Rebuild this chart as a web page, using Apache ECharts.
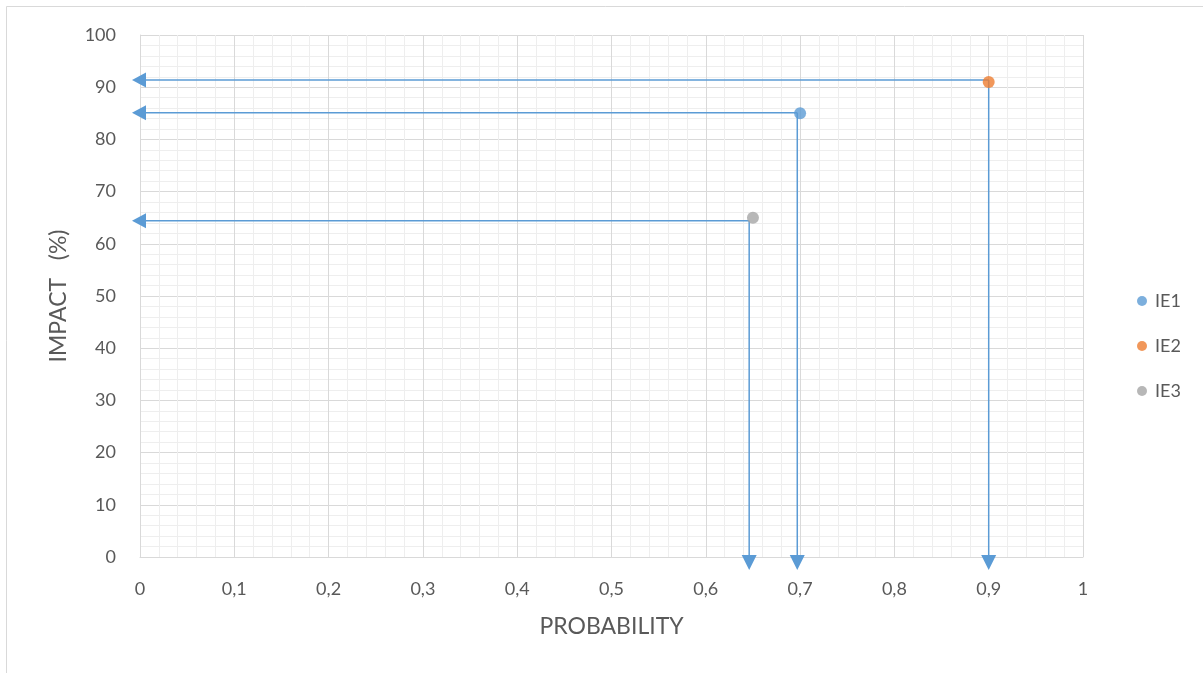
<!DOCTYPE html>
<html>
<head>
<meta charset="utf-8">
<script src="https://cdn.jsdelivr.net/npm/echarts@6/dist/echarts.min.js"></script>
<style>
html,body{margin:0;padding:0;background:#fff;}
#c{width:1203px;height:673px;}
</style>
</head>
<body>
<div id="c"></div>
<script>
const seriesNames = ['IE1', 'IE2', 'IE3'];
const probability = [0.7, 0.9, 0.65];
const impact = [85, 91, 65];
const colors = ['#5B9BD5', '#ED7D31', '#A5A5A5'];
// corners of the arrow connectors
const arrowX = [0.697, 0.9, 0.646];
const arrowY = [85.1, 91.4, 64.4];

const chart = echarts.init(document.getElementById('c'), null, {renderer: 'canvas'});
const font = 'Lato, "Open Sans", sans-serif';
const txt = '#595959';
const arrowColor = '#5B9BD5';

const series = seriesNames.map((n, i) => ({
  name: n,
  type: 'scatter',
  z: 5,
  symbol: 'circle',
  symbolSize: 12,
  itemStyle: {color: colors[i]},
  data: [[probability[i], impact[i]]]
}));

series.push({
  name: 'arrows',
  type: 'custom',
  z: 3,
  clip: false,
  silent: true,
  data: arrowX.map((x, i) => [x, arrowY[i]]),
  renderItem: function (params, api) {
    const c = api.coord([api.value(0), api.value(1)]);
    const l = api.coord([0, api.value(1)]);
    const b = api.coord([api.value(0), 0]);
    const hw = 7.5;
    const st = {stroke: arrowColor, lineWidth: 1.5, fill: null};
    return {
      type: 'group',
      children: [
        {type: 'line', shape: {x1: c[0], y1: c[1], x2: l[0] + 4, y2: l[1]}, style: st},
        {type: 'line', shape: {x1: c[0], y1: c[1], x2: b[0], y2: b[1] - 2}, style: st},
        {type: 'polygon', shape: {points: [[l[0] - 8, l[1]], [l[0] + 6, l[1] - hw], [l[0] + 6, l[1] + hw]]},
          style: {fill: arrowColor}},
        {type: 'polygon', shape: {points: [[b[0], b[1] + 13], [b[0] - hw, b[1] - 2], [b[0] + hw, b[1] - 2]]},
          style: {fill: arrowColor}}
      ]
    };
  }
});

chart.setOption({
  animation: false,
  backgroundColor: '#fff',
  graphic: [{
    type: 'rect',
    shape: {x: 6.5, y: 6.5, width: 1400, height: 1400},
    style: {fill: 'none', stroke: '#d9d9d9', lineWidth: 1},
    silent: true,
    z: -10
  }],
  grid: {left: 140, right: 120, top: 35, bottom: 116, containLabel: false},
  legend: {
    data: seriesNames,
    orient: 'vertical',
    left: 1132,
    top: 287,
    itemGap: 27,
    itemWidth: 10,
    itemHeight: 10,
    icon: 'circle',
    textStyle: {color: txt, fontSize: 18, fontFamily: font, padding: [0, 0, 0, 3]}
  },
  xAxis: {
    type: 'value',
    min: 0, max: 1, interval: 0.1,
    name: 'PROBABILITY',
    nameLocation: 'middle',
    nameGap: 58,
    nameTextStyle: {color: txt, fontSize: 23, fontFamily: font},
    axisLine: {show: true, lineStyle: {color: '#d9d9d9', width: 1}},
    axisTick: {show: false},
    axisLabel: {color: txt, fontSize: 18, fontFamily: font, margin: 23,
      formatter: v => String(Math.round(v * 10) / 10).replace('.', ',')},
    splitLine: {show: true, lineStyle: {color: '#d9d9d9', width: 1}},
    minorTick: {show: false, splitNumber: 5},
    minorSplitLine: {show: true, lineStyle: {color: '#eeeeee', width: 1}}
  },
  yAxis: {
    type: 'value',
    min: 0, max: 100, interval: 10,
    name: 'IMPACT   (%)',
    nameLocation: 'middle',
    nameGap: 70,
    nameRotate: 90,
    nameTextStyle: {color: txt, fontSize: 23, fontFamily: font},
    axisLine: {show: true, lineStyle: {color: '#d9d9d9', width: 1}},
    axisTick: {show: false},
    axisLabel: {color: txt, fontSize: 18, fontFamily: font, margin: 24},
    splitLine: {show: true, lineStyle: {color: '#d9d9d9', width: 1}},
    minorTick: {show: false, splitNumber: 5},
    minorSplitLine: {show: true, lineStyle: {color: '#eeeeee', width: 1}}
  },
  series: series
});
</script>
</body>
</html>
